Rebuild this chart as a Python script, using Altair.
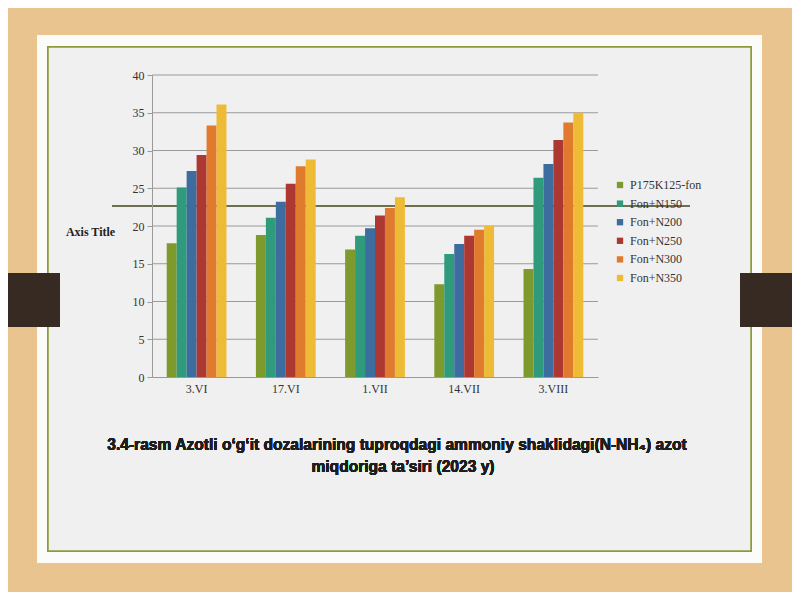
import altair as alt
import pandas as pd

dates = ["3.VI", "17.VI", "1.VII", "14.VII", "3.VIII"]
series = ["P175K125-fon", "Fon+N150", "Fon+N200", "Fon+N250", "Fon+N300", "Fon+N350"]
v_p175 = [17.7, 18.8, 16.9, 12.3, 14.3]
v_n150 = [25.1, 21.1, 18.7, 16.3, 26.4]
v_n200 = [27.3, 23.2, 19.7, 17.6, 28.2]
v_n250 = [29.4, 25.6, 21.4, 18.7, 31.4]
v_n300 = [33.3, 27.9, 22.4, 19.5, 33.7]
v_n350 = [36.1, 28.8, 23.8, 20.0, 35.0]
colors = ["#7f9a2c", "#2f9a7c", "#3d6c9e", "#ad3832", "#e07a2e", "#eebb36"]
y_ticks = [5, 10, 15, 20, 25, 30, 35, 40]
y_labels = [0, 5, 10, 15, 20, 25, 30, 35, 40]
caption1 = "3.4-rasm Azotli o‘g‘it dozalarining tuproqdagi ammoniy shaklidagi(N-NH₄) azot"
caption2 = "miqdoriga ta’siri (2023 y)"

all_vals = [v_p175, v_n150, v_n200, v_n250, v_n300, v_n350]
rows = []
for s, vals in zip(series, all_vals):
    for d, v in zip(dates, vals):
        rows.append({"date": d, "series": s, "value": v})
df = pd.DataFrame(rows)
grid_df = pd.DataFrame({"value": y_ticks})

W, H = 446, 302
SERIF = "Liberation Serif"

y_scale = alt.Scale(domain=[0, 40], nice=False)
y_axis = alt.Axis(values=y_labels, grid=False,
                  labelFont=SERIF, labelFontSize=12, labelColor="#333333",
                  domainColor="#9a9a9a", tickColor="#9a9a9a", tickSize=5,
                  labelPadding=3, zindex=1,
                  titleAngle=0, titleX=-62, titleY=156,
                  titleAlign="center", titleBaseline="middle",
                  titleFont=SERIF, titleFontSize=12, titleFontWeight="bold",
                  titleColor="#222222")

card = alt.Chart(grid_df).mark_rect(color="#fbfbfa").encode(
    x=alt.value(-115), x2=alt.value(610), y=alt.value(-40), y2=alt.value(488))
inner = alt.Chart(grid_df).mark_rect(
    color="#f0f0f1", stroke="#8d9b3c", strokeWidth=1.5).encode(
    x=alt.value(-104), x2=alt.value(599), y=alt.value(-28), y2=alt.value(476))
tab_l = alt.Chart(grid_df).mark_rect(color="#372a22").encode(
    x=alt.value(-170), x2=alt.value(-92), y=alt.value(198), y2=alt.value(252))
tab_r = alt.Chart(grid_df).mark_rect(color="#372a22").encode(
    x=alt.value(588), x2=alt.value(660), y=alt.value(198), y2=alt.value(252))

grid = alt.Chart(grid_df).mark_rule(color="#9a9a9a", strokeWidth=1).encode(
    y=alt.Y("value:Q", scale=y_scale, title="Axis Title", axis=y_axis),
    x=alt.value(0), x2=alt.value(W))

deco = alt.Chart(grid_df).mark_rule(color="#6e6e50", strokeWidth=1.2).encode(
    x=alt.value(-40), x2=alt.value(538), y=alt.value(131))

bars = alt.Chart(df).mark_bar().encode(
    x=alt.X("date:N", sort=dates, title=None,
            scale=alt.Scale(paddingInner=0.33, paddingOuter=0.165),
            axis=alt.Axis(labelAngle=0, labelFont=SERIF, labelFontSize=12,
                          labelColor="#333333", domainColor="#9a9a9a",
                          ticks=False, labelPadding=6, zindex=1)),
    xOffset=alt.XOffset("series:N", sort=series),
    y=alt.Y("value:Q", scale=y_scale, title="Axis Title", axis=y_axis),
    color=alt.Color("series:N", sort=series,
                    scale=alt.Scale(domain=series, range=colors),
                    legend=alt.Legend(title=None, orient="none", legendX=462,
                                      legendY=104, symbolType="square",
                                      symbolSize=40, labelFont=SERIF,
                                      labelFontSize=12, labelColor="#333333",
                                      rowPadding=6.6, padding=0, zindex=1)),
)

cap1 = alt.Chart(grid_df).mark_text(
    font="Liberation Sans", fontSize=15.6, fontWeight="bold", color="#1e1e1e",
    align="center", baseline="middle").encode(
    text=alt.value(caption1), x=alt.value(245), y=alt.value(370))
cap2 = alt.Chart(grid_df).mark_text(
    font="Liberation Sans", fontSize=15.6, fontWeight="bold", color="#1e1e1e",
    align="center", baseline="middle").encode(
    text=alt.value(caption2), x=alt.value(251), y=alt.value(392))

chart = alt.layer(card, inner, tab_l, tab_r, grid, deco, bars, cap1, cap2).properties(
    width=W, height=H,
    autosize=alt.AutoSizeParams(type="none"),
    padding={"left": 144, "top": 67, "right": 194, "bottom": 215},
    background="#e9c48f",
).configure_view(stroke=None)

chart.save("out.html", embed_options={"renderer": "svg", "actions": False})
